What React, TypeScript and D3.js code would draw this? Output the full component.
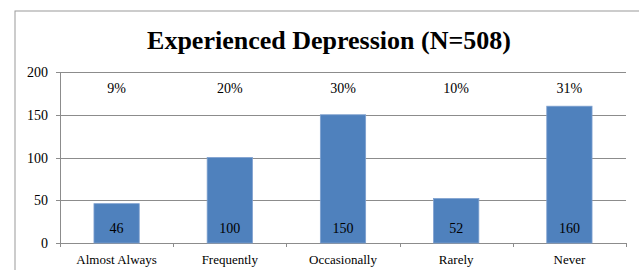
import React from "react";
import * as d3 from "d3";

const categories = ["Almost Always", "Frequently", "Occasionally", "Rarely", "Never"];
const counts = [46, 100, 150, 52, 160];
const percents = ["9%", "20%", "30%", "10%", "31%"];
const yTicks = [0, 50, 100, 150, 200];

const W = 639;
const H = 270;
const margin = { left: 60, right: 13, top: 72, bottom: 27 };
const font = "'Liberation Serif', 'Times New Roman', serif";

const App = () => {
  const x = d3
    .scaleBand<string>()
    .domain(categories)
    .range([margin.left, W - margin.right]);
  const y = d3
    .scaleLinear()
    .domain([0, 200])
    .range([H - margin.bottom, margin.top]);
  const barW = x.bandwidth() * 0.4;
  const y0 = y(0);

  return (
    <svg
      width={W}
      height={H}
      style={{ position: "absolute", left: 0, top: 0, background: "#fff" }}
    >
      <rect x={15} y={11} width={W} height={H} fill="none" stroke="#9a9a9a" strokeWidth={1} />
      <text
        x={329}
        y={49}
        textAnchor="middle"
        fontFamily={font}
        fontWeight="bold"
        fontSize={26}
        fill="#000"
      >
        Experienced Depression (N=508)
      </text>

      {yTicks.map(t => (
        <g key={t}>
          <line
            x1={margin.left - 4}
            x2={W - margin.right}
            y1={Math.round(y(t)) + 0.5}
            y2={Math.round(y(t)) + 0.5}
            stroke="#8c8c8c"
          />
          <text
            x={margin.left - 12}
            y={y(t) + 5}
            textAnchor="end"
            fontFamily={font}
            fontSize={14}
            fill="#000"
          >
            {t}
          </text>
        </g>
      ))}
      <line
        x1={margin.left + 0.5}
        x2={margin.left + 0.5}
        y1={y(200)}
        y2={y0 + 4}
        stroke="#8c8c8c"
      />
      {categories.map((c, i) => (
        <line
          key={"t" + c}
          x1={Math.round(x(c)! + x.bandwidth()) + 0.5}
          x2={Math.round(x(c)! + x.bandwidth()) + 0.5}
          y1={y0}
          y2={y0 + 4}
          stroke="#8c8c8c"
        />
      ))}

      {categories.map((c, i) => {
        const cx = x(c)! + x.bandwidth() / 2;
        return (
          <g key={c}>
            <rect
              x={cx - barW / 2}
              y={y(counts[i])}
              width={barW}
              height={y0 - y(counts[i])}
              fill="#4f81bd"
              stroke="#7ea0cf"
              strokeWidth={0.8}
            />
            <text
              x={cx}
              y={y0 - 10}
              textAnchor="middle"
              fontFamily={font}
              fontSize={14}
              fill="#000"
            >
              {counts[i]}
            </text>
            <text
              x={cx}
              y={y(200) + 21}
              textAnchor="middle"
              fontFamily={font}
              fontSize={14}
              fill="#000"
            >
              {percents[i]}
            </text>
            <text
              x={cx}
              y={y0 + 21}
              textAnchor="middle"
              fontFamily={font}
              fontSize={13}
              fill="#000"
            >
              {c}
            </text>
          </g>
        );
      })}
    </svg>
  );
};

export default App;
